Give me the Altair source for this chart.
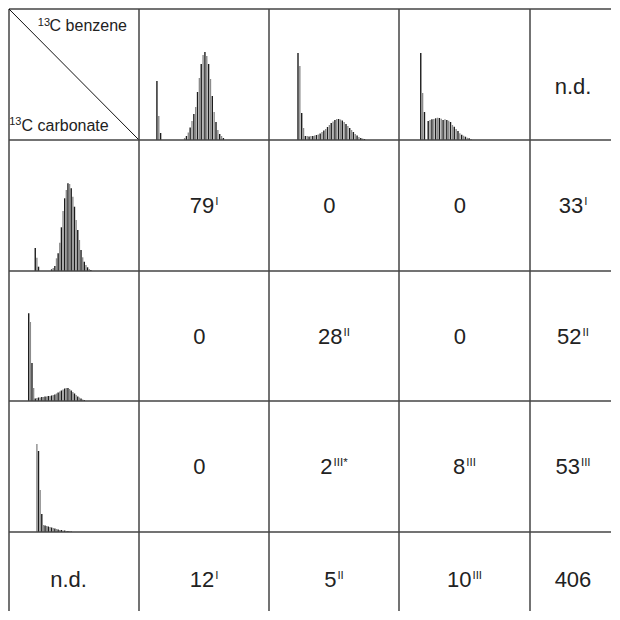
import altair as alt
import pandas as pd

FONT = "Liberation Sans"
LINE = "#454545"
LW = 1.5
TXT = "#222222"
GRAY = "#8c8c8c"
BLACK = "#1c1c1c"

# ---------------- data ----------------
iso_sup = "13"
benzene_label = "C benzene"
carbonate_label = "C carbonate"
not_detected = "n.d."

# top row: 13C benzene labelling patterns (bin index, relative intensity)
benz1_bins = [7, 8, 9] + list(range(22, 44))
benz1_vals = [59, 24, 7, 2, 4, 7.5, 12.5, 19, 26, 33, 48, 62, 76, 85, 88, 84, 76, 61, 44,
              28, 18, 10, 6, 4, 2]
benz2_bins = list(range(13, 50))
benz2_vals = [87, 74, 27, 12, 4, 4, 3.5, 4, 4, 4.5, 5, 5.5, 6.5, 8, 9.5, 11, 13, 15, 17,
              18.5, 20, 21, 21, 20.5, 19.5, 18, 16, 14, 12, 10, 8, 6, 4.5, 3, 2, 1.5, 1]
benz3_bins = [9, 10, 11] + list(range(13, 37))
benz3_vals = [87, 47, 28, 19, 20, 20.7, 21, 21.7, 22.3, 22, 21.3, 20, 20.7, 20, 19.3, 18,
              15, 13.3, 11, 9, 6.7, 5.3, 4.3, 3.3, 2.3, 1.7, 1]

# left column: 13C carbonate labelling patterns
carb1_bins = [13, 14, 15] + list(range(23, 48))
carb1_vals = [23, 13.3, 4.3, 1.7, 3, 5, 12.7, 17.7, 28.3, 43.7, 60, 72.7, 81, 87.7, 87,
              82.7, 74.3, 64.3, 51, 41, 31, 21, 13.7, 9.3, 6, 3.7, 2, 1]
carb2_bins = list(range(9, 44))
carb2_vals = [87.7, 79, 38, 13, 2.5, 3, 3.5, 3.5, 4, 4, 4.5, 4.5, 5, 5, 5.5, 6, 6.5, 7.5,
              8.5, 9.5, 10.5, 11.5, 12.5, 13, 13, 12, 10.5, 9, 7.5, 6, 4.5, 3.5, 2.5, 1.5, 1]
carb3_bins = list(range(14, 36))
carb3_vals = [88, 81, 42, 18, 7, 6.5, 6, 5.5, 5, 4.5, 4, 3.5, 3, 2.5, 2, 2, 1.5, 1.5, 1, 1,
              0.8, 0.5]

# table body: counts and group superscripts (rows = carbonate patterns I, II, III, n.d.)
counts = [["79", "0", "0", "33"],
          ["0", "28", "0", "52"],
          ["0", "2", "8", "53"],
          ["12", "5", "10", "406"]]
groups = [["I", "", "", "I"],
          ["", "II", "", "II"],
          ["", "III*", "III", "III"],
          ["I", "II", "III", ""]]

# ---------------- layout ----------------
col_w = [130, 130, 130, 131, 81]
col_cx = [65, 65, 65, 65.5, 43]
phantom = [11, 9, 9, 9, 0]          # blank space after plain entries (as typeset)
row_h = [131, 131, 130, 131, 79]
row_cy = [77.5, 65.5, 65.5, 65, 47.5]
FS = 22
FS_SUP = 11.5
FS_HEAD = 16
CW = {c: 0.556 for c in "0123456789nd"}
CW.update({"I": 0.278, "*": 0.389, ".": 0.278})


def twidth(s, fs):
    return sum(CW.get(c, 0.55) for c in s) * fs


def borders(w, h):
    base = alt.Chart(pd.DataFrame({"k": [0]}))
    top = base.mark_rule(color=LINE, strokeWidth=LW).encode(
        x=alt.value(0), x2=alt.value(w), y=alt.value(0))
    left = base.mark_rule(color=LINE, strokeWidth=LW).encode(
        x=alt.value(0), y=alt.value(0), y2=alt.value(h))
    return [top, left]


def text_cell(num, sup, w, h, cx, cy, ph):
    df = pd.DataFrame({"num": [num], "sup": [sup]})
    wb = twidth(num, FS)
    ws = twidth(sup, FS_SUP) + 1 if sup else ph
    anchor = cx - (wb + ws) / 2 + wb
    base_y = cy + 0.716 * FS / 2
    layers = borders(w, h)
    layers.append(alt.Chart(df).mark_text(
        align="right", baseline="alphabetic", fontSize=FS, font=FONT, color=TXT
    ).encode(x=alt.value(anchor), y=alt.value(base_y), text="num:N"))
    if sup:
        layers.append(alt.Chart(df).mark_text(
            align="left", baseline="alphabetic", fontSize=FS_SUP, font=FONT, color=TXT
        ).encode(x=alt.value(anchor + 1),
                 y=alt.value(base_y - 0.716 * FS - 0.7 + 0.716 * FS_SUP), text="sup:N"))
    return alt.layer(*layers).properties(width=w, height=h)


def hist_cell(bins, vals, w, h, xmax):
    df = pd.DataFrame({"bin": bins, "intensity": vals})
    df["shade"] = df["bin"] % 2
    bars = alt.Chart(df).mark_bar(size=1.4).encode(
        x=alt.X("bin:Q", scale=alt.Scale(domain=[0, xmax], nice=False, zero=False), axis=None),
        y=alt.Y("intensity:Q", scale=alt.Scale(domain=[0, h], nice=False), axis=None),
        color=alt.Color("shade:N", scale=alt.Scale(domain=[0, 1], range=[GRAY, BLACK]),
                        legend=None),
    )
    return alt.layer(bars, *borders(w, h)).properties(width=w, height=h)


def header_cell(w, h):
    base = alt.Chart(pd.DataFrame({"a": [benzene_label], "b": [carbonate_label], "s": [iso_sup]}))
    diag = base.mark_rule(color="#111111", strokeWidth=1).encode(
        x=alt.value(0), y=alt.value(0), x2=alt.value(w), y2=alt.value(h))
    t1 = base.mark_text(align="right", baseline="alphabetic", fontSize=FS_HEAD, font=FONT,
                        color=TXT).encode(x=alt.value(118), y=alt.value(22), text="a:N")
    s1 = base.mark_text(align="right", baseline="alphabetic", fontSize=FS_SUP - 0.5, font=FONT,
                        color=TXT).encode(x=alt.value(118 - twidth("C", 0) - 4.836 * FS_HEAD + 0.5),
                                          y=alt.value(16.5), text="s:N")
    t2 = base.mark_text(align="left", baseline="alphabetic", fontSize=FS_HEAD, font=FONT,
                        color=TXT).encode(x=alt.value(12.5), y=alt.value(121.5), text="b:N")
    s2 = base.mark_text(align="right", baseline="alphabetic", fontSize=FS_SUP - 0.5, font=FONT,
                        color=TXT).encode(x=alt.value(12.5), y=alt.value(115.5), text="s:N")
    return alt.layer(*borders(w, h), diag, t1, s1, t2, s2).properties(width=w, height=h)


XMAX_TOP = 65
XMAX_LEFT = 73.4

cells = [
    header_cell(col_w[0], row_h[0]),
    hist_cell(benz1_bins, benz1_vals, col_w[1], row_h[0], XMAX_TOP),
    hist_cell(benz2_bins, benz2_vals, col_w[2], row_h[0], XMAX_TOP),
    hist_cell(benz3_bins, benz3_vals, col_w[3], row_h[0], XMAX_TOP),
    text_cell(not_detected, "", col_w[4], row_h[0], col_cx[4], row_cy[0], phantom[4]),
]

carb = [(carb1_bins, carb1_vals), (carb2_bins, carb2_vals), (carb3_bins, carb3_vals)]
for r in range(4):
    if r < 3:
        cells.append(hist_cell(carb[r][0], carb[r][1], col_w[0], row_h[r + 1], XMAX_LEFT))
    else:
        cells.append(text_cell(not_detected, "", col_w[0], row_h[r + 1], col_cx[0],
                               row_cy[r + 1], phantom[0]))
    for c in range(4):
        cells.append(text_cell(counts[r][c], groups[r][c], col_w[c + 1], row_h[r + 1],
                               col_cx[c + 1], row_cy[r + 1], phantom[c + 1]))

chart = alt.concat(*cells, columns=5, spacing=0, bounds="flush").properties(
    padding={"left": 0, "top": 0, "right": 0, "bottom": 0}
).configure_view(stroke=None)

chart.save("out.html", embed_options={"renderer": "svg", "actions": False})
